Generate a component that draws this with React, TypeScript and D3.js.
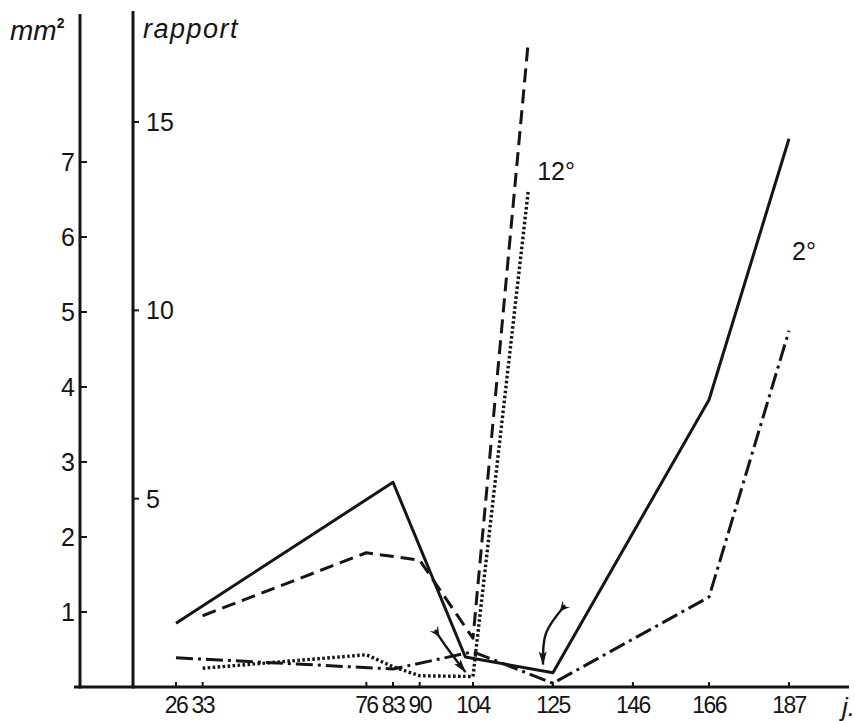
import React, { useEffect, useRef } from 'react';
import * as d3 from 'd3';

// Axis ticks
const dayTicks = [26, 33, 76, 83, 90, 104, 125, 146, 166, 187];
const mmTicks = [1, 2, 3, 4, 5, 6, 7];
const rapportTicks = [5, 10, 15];

// Series (values in mm²)
const solidDays = [26, 83, 102, 125, 166, 187];
const solidValues = [0.85, 2.73, 0.4, 0.19, 3.83, 7.31];

const dashedDays = [33, 76, 90, 104, 118.5];
const dashedValues = [0.95, 1.79, 1.69, 0.65, 8.59];

const dottedDays = [33, 76, 83, 90, 104, 118.5];
const dottedValues = [0.25, 0.43, 0.27, 0.15, 0.14, 6.61];

const dashDotDays = [26, 83, 104, 125, 166, 187];
const dashDotValues = [0.39, 0.24, 0.47, 0.05, 1.2, 4.75];

// Curved annotation arrows, [day, mm²]
const arrowA: [number, number][] = [[94, 0.76], [97.5, 0.5], [102, 0.2]];
const arrowB: [number, number][] = [[128.2, 1.09], [123.2, 0.72], [122.4, 0.3]];

const INK = '#151515';
const FONT = '"Liberation Sans", Arial, Helvetica, sans-serif';

const App: React.FC = () => {
  const svgRef = useRef<SVGSVGElement | null>(null);

  useEffect(() => {
    if (!svgRef.current) return;
    const width = 855;
    const height = 721;
    const baseY = 687;

    const x = d3.scaleLinear().domain([26, 187]).range([176, 789]);
    const yMm = d3.scaleLinear().domain([0, 7]).range([baseY, 162]);
    const yRap = d3.scaleLinear().domain([0, 15]).range([baseY, 122]);

    const mmAxisX = 80;
    const rapAxisX = 133;

    const svg = d3.select(svgRef.current)
      .attr('width', width)
      .attr('height', height);
    svg.selectAll('*').remove();

    svg.append('rect').attr('width', width).attr('height', height).attr('fill', '#fff');

    const defs = svg.append('defs');
    defs.append('marker')
      .attr('id', 'head')
      .attr('viewBox', '0 -5 14 10')
      .attr('refX', 13).attr('refY', 0)
      .attr('markerUnits', 'userSpaceOnUse')
      .attr('markerWidth', 14).attr('markerHeight', 10)
      .attr('orient', 'auto')
      .append('path')
      .attr('d', 'M0,-4 L14,0 L0,4 L3,0 Z')
      .attr('fill', INK);
    defs.append('marker')
      .attr('id', 'tail')
      .attr('viewBox', '0 -6 12 12')
      .attr('refX', 2).attr('refY', 0)
      .attr('markerUnits', 'userSpaceOnUse')
      .attr('markerWidth', 12).attr('markerHeight', 12)
      .attr('orient', 'auto')
      .append('path')
      .attr('d', 'M0,-5 L10,0 L0,5 L4,0 Z')
      .attr('fill', INK);

    // Axes
    const axes = svg.append('g').attr('stroke', INK).attr('stroke-width', 3).attr('fill', 'none');
    axes.append('line').attr('x1', mmAxisX).attr('x2', mmAxisX).attr('y1', 14).attr('y2', baseY + 1.5);
    axes.append('line').attr('x1', rapAxisX).attr('x2', rapAxisX).attr('y1', 11).attr('y2', baseY + 1.5);
    axes.append('line').attr('x1', 74).attr('x2', 849).attr('y1', baseY).attr('y2', baseY);

    const tickG = svg.append('g').attr('stroke', INK).attr('stroke-width', 2);
    tickG.selectAll('line.mm').data(mmTicks).enter().append('line')
      .attr('x1', mmAxisX).attr('x2', mmAxisX + 7)
      .attr('y1', d => yMm(d)).attr('y2', d => yMm(d));
    tickG.selectAll('line.rap').data(rapportTicks).enter().append('line')
      .attr('x1', rapAxisX).attr('x2', rapAxisX + 6)
      .attr('y1', d => yRap(d)).attr('y2', d => yRap(d));
    tickG.selectAll('line.day').data(dayTicks).enter().append('line')
      .attr('x1', d => x(d)).attr('x2', d => x(d))
      .attr('y1', baseY).attr('y2', baseY - 5);

    const labels = svg.append('g').attr('font-family', FONT).attr('fill', INK);
    labels.selectAll('text.mm').data(mmTicks).enter().append('text')
      .attr('x', 75).attr('y', d => yMm(d)).attr('dy', '0.36em')
      .attr('text-anchor', 'end').attr('font-size', 25)
      .text(d => d);
    labels.selectAll('text.rap').data(rapportTicks).enter().append('text')
      .attr('x', 146).attr('y', d => yRap(d)).attr('dy', '0.36em')
      .attr('text-anchor', 'start').attr('font-size', 25)
      .text(d => d);
    labels.selectAll('text.day').data(dayTicks).enter().append('text')
      .attr('x', d => x(d)).attr('y', 713)
      .attr('text-anchor', 'middle').attr('font-size', 23).attr('letter-spacing', -1.6)
      .text(d => d);

    // Axis titles
    const mm = labels.append('text')
      .attr('x', 10).attr('y', 40)
      .attr('font-size', 28).attr('font-style', 'italic');
    mm.append('tspan').text('mm');
    mm.append('tspan').attr('font-size', 14).attr('dy', -12).attr('font-style', 'normal').attr('font-weight', 'bold').text('2');
    labels.append('text')
      .attr('x', 143).attr('y', 38)
      .attr('font-size', 27).attr('font-style', 'italic').attr('letter-spacing', 1.5)
      .text('rapport');
    labels.append('text')
      .attr('x', 842).attr('y', 716)
      .attr('font-size', 26).attr('font-style', 'italic')
      .text('j.');

    // Series
    const line = d3.line<[number, number]>()
      .x(d => x(d[0]))
      .y(d => yMm(d[1]));

    const series = [
      { days: solidDays, values: solidValues, dash: null as string | null, width: 3 },
      { days: dashedDays, values: dashedValues, dash: '14 7', width: 3 },
      { days: dottedDays, values: dottedValues, dash: '2.6 2.4', width: 3.4 },
      { days: dashDotDays, values: dashDotValues, dash: '17 5 3 5', width: 3 },
    ];

    svg.append('g').selectAll('path')
      .data(series)
      .enter()
      .append('path')
      .attr('d', s => line(s.days.map((d, i) => [d, s.values[i]] as [number, number])))
      .attr('fill', 'none')
      .attr('stroke', INK)
      .attr('stroke-width', s => s.width)
      .attr('stroke-linejoin', 'round')
      .attr('stroke-dasharray', s => s.dash);

    // Annotation arrows
    const curve = d3.line<[number, number]>()
      .x(d => x(d[0]))
      .y(d => yMm(d[1]))
      .curve(d3.curveNatural);
    svg.append('g').selectAll('path')
      .data([arrowA, arrowB])
      .enter()
      .append('path')
      .attr('d', d => curve(d))
      .attr('fill', 'none')
      .attr('stroke', INK)
      .attr('stroke-width', 2.4)
      .attr('marker-start', 'url(#tail)')
      .attr('marker-end', 'url(#head)');

    // Series labels
    labels.append('text')
      .attr('x', x(118.5) + 9).attr('y', 180)
      .attr('font-size', 25)
      .text('12°');
    labels.append('text')
      .attr('x', x(187) + 3).attr('y', 260)
      .attr('font-size', 25)
      .text('2°');
  }, []);

  return (
    <div style={{ position: 'absolute', left: 0, top: 0 }}>
      <svg ref={svgRef} style={{ display: 'block' }}></svg>
    </div>
  );
};

export default App;
